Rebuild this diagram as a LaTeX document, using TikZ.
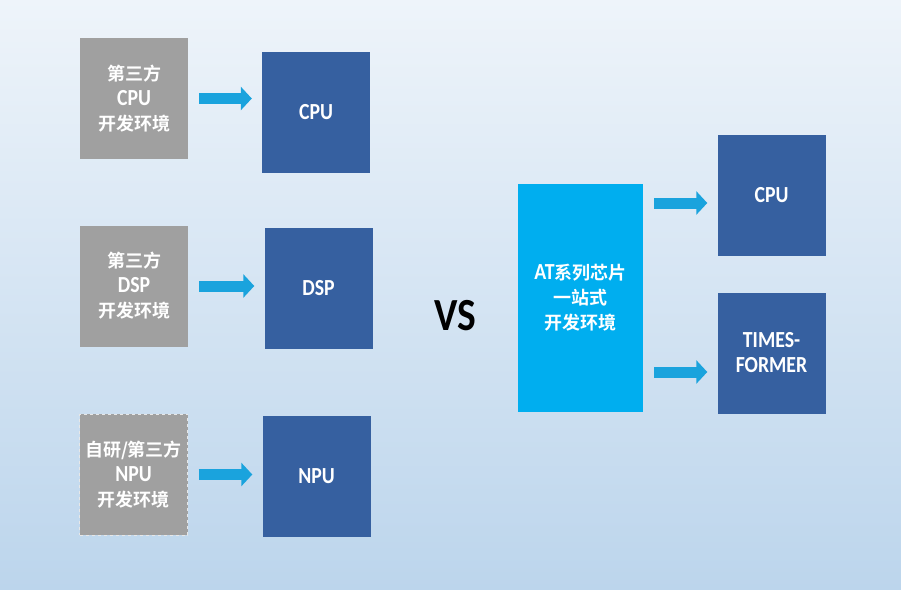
\documentclass[tikz,border=0pt]{standalone}
\usepackage{fontspec}
\setmainfont{Carlito}[FakeStretch=0.86]
\newfontfamily\cjk{Noto Sans CJK SC}[BoldFont=* Bold]
\newcommand\zh[1]{{\cjk\fontsize{18}{25}\selectfont#1}}
\usetikzlibrary{arrows.meta}

\definecolor{bgtop}{HTML}{EEF4FA}
\definecolor{bgbot}{HTML}{BCD5EC}
\definecolor{envgray}{HTML}{A0A0A0}
\definecolor{chipblue}{HTML}{3660A0}
\definecolor{atcyan}{HTML}{00AEEF}
\definecolor{arrcyan}{HTML}{1AA3DD}

\begin{document}
\begin{tikzpicture}[
  x=1pt, y=-1pt,
  envbox/.style={
    fill=envgray, minimum width=108pt, minimum height=121pt,
    inner sep=0pt, align=center, text=white,
    font=\fontsize{23}{25}\selectfont\bfseries
  },
  chip/.style={
    fill=chipblue, minimum width=108pt, minimum height=121pt,
    inner sep=0pt, align=center, text=white,
    font=\fontsize{23}{25}\selectfont\bfseries
  },
  onestop/.style={
    fill=atcyan, minimum width=125pt, minimum height=228pt,
    inner sep=0pt, align=center, text=white,
    font=\fontsize{23}{25}\selectfont\bfseries
  },
  barr/.style={
    -{Triangle[width=23pt,length=11pt]}, color=arrcyan,
    line width=11pt, shorten <=11pt, shorten >=10pt
  }
]

% Background
\shade[top color=bgtop, bottom color=bgbot] (0,0) rectangle (901,589);
\useasboundingbox (0,0) rectangle (901,589);

% Third-party tool chains
\node[envbox] (env1) at (134, 98.5) {\zh{第三方}\\CPU\\\zh{开发环境}};
\node[envbox] (env2) at (134, 286) {\zh{第三方}\\DSP\\\zh{开发环境}};
\node[envbox, draw=white!75!envgray, dashed, thin] (env3) at (133.5, 474.5)
  {\zh{自研/第三方}\\NPU\\\zh{开发环境}};

% Target cores
\node[chip] (cpu1) at (316, 112.5) {CPU};
\node[chip] (dsp) at (318.5, 288.5) {DSP};
\node[chip] (npu) at (316.5, 476) {NPU};

\draw[barr] (env1.east) -- (env1.east -| cpu1.west);
\draw[barr] (env2.east) -- (env2.east -| dsp.west);
\draw[barr] (env3.east) -- (env3.east -| npu.west);

% VS
\node[font=\fontsize{46}{46}\selectfont\bfseries] (vs) at (455, 316) {VS};

% One-stop environment
\node[onestop] (at) at (580.5, 298) {AT\zh{系列芯片}\\\zh{一站式}\\\zh{开发环境}};
\node[chip] (cpu2) at (771.5, 195.5) {CPU};
\node[chip] (tf) at (771.5, 353) {TIMES-\\FORMER};

\coordinate (at1) at (at.east |- 0,203);
\coordinate (at2) at (at.east |- 0,372);
\draw[barr] (at1) -- (at1 -| cpu2.west);
\draw[barr] (at2) -- (at2 -| tf.west);

\end{tikzpicture}
\end{document}
